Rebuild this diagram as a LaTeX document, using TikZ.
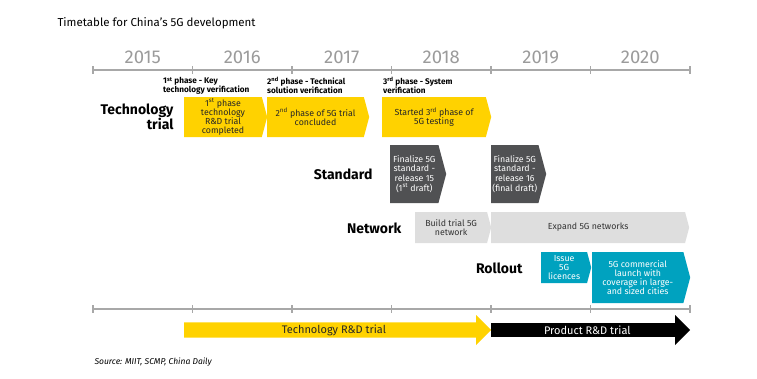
\documentclass[tikz,border=0pt]{standalone}
\usepackage{fontspec}
\setmainfont{Fira Sans}
\usetikzlibrary{shapes.symbols,shapes.arrows}
\definecolor{eyyellow}{HTML}{FFD200}
\definecolor{eydark}{HTML}{505153}
\definecolor{eylight}{HTML}{DEDEDE}
\definecolor{eyteal}{HTML}{00A2BF}
\definecolor{axisgray}{HTML}{A8A8A8}
\definecolor{yeargray}{HTML}{9B9B9B}
\begin{document}
\begin{tikzpicture}[x=1pt, y=-1pt,
        phase/.style={signal, signal to=east, signal from=nowhere, signal pointer angle=150,
            anchor=west, inner sep=0pt, align=center, font=\fontsize{8.8}{8.8}\selectfont},
        techbox/.style={phase, fill=eyyellow, text=black!85, minimum height=40pt},
        stdbox/.style={phase, fill=eydark, text=white, minimum height=58pt, font=\fontsize{8.8}{9.6}\selectfont},
        netbox/.style={phase, fill=eylight, text=black!80, minimum height=31pt},
        rollbox/.style={phase, fill=eyteal, text=white},
        rowlabel/.style={anchor=east, align=right, font=\fontsize{14}{14}\selectfont\bfseries},
        phaselabel/.style={anchor=north west, align=left, inner sep=0pt, font=\fontsize{8.2}{8.7}\selectfont\bfseries},
        year/.style={text=yeargray, font=\fontsize{18.5}{18.5}\selectfont},
        axis/.style={axisgray, line width=1.5pt},
        bar/.style={single arrow, single arrow head extend=5.5pt, single arrow tip angle=90,
            anchor=tail, inner sep=0pt, minimum width=30pt, font=\fontsize{11}{12}\selectfont}
    ]
        \useasboundingbox (0,0) rectangle (757,378);

        \node[anchor=base west, font=\fontsize{11.5}{13}\selectfont] (title) at (54,26) {Timetable for China's 5G development};

        % years and time axes
        \foreach \yr [count=\i from 0] in {2015,...,2020}
            \node[year] (y\yr) at (142.75+99.5*\i,57) {\yr};
        \draw[axis] (93,70) -- (690,70);
        \draw[axis] (93,309) -- (690,309);
        \foreach \i in {0,...,6} {
            \draw[axis] (93+99.5*\i,66) -- (93+99.5*\i,74);
            \draw[axis] (93+99.5*\i,305) -- (93+99.5*\i,313);
        }

        % technology trial
        \node[rowlabel] (tech) at (177,117) {Technology\\trial};
        \node[phaselabel] (p1) at (163,77) {1\textsuperscript{st} phase - Key\\technology verification};
        \node[phaselabel] (p2) at (267,77) {2\textsuperscript{nd} phase - Technical\\solution verification};
        \node[phaselabel] (p3) at (383,77) {3\textsuperscript{rd} phase - System\\verification};
        \node[techbox, minimum width=83pt] (T1) at (184,117) {1\textsuperscript{st} phase\\technology\\R\&D trial\\completed};
        \node[techbox, minimum width=102pt] (T2) at (267,117) {2\textsuperscript{nd} phase of 5G trial\\concluded};
        \node[techbox, minimum width=109pt] (T3) at (382,117) {Started 3\textsuperscript{rd} phase of\\5G testing};

        % standard
        \node[rowlabel] (std) at (376,174) {Standard};
        \node[stdbox, minimum width=56pt] (S1) at (390,174) {Finalize 5G\\standard -\\release 15\\(1\textsuperscript{st} draft)};
        \node[stdbox, minimum width=55pt] (S2) at (491,174) {Finalize 5G\\standard -\\release 16\\(final draft)};

        % network
        \node[rowlabel] (net) at (405,228) {Network};
        \node[netbox, minimum width=76pt] (N1) at (415,227.5) {Build trial 5G\\network};
        \node[netbox, minimum width=198pt] (N2) at (491,227.5) {Expand 5G networks};

        % rollout
        \node[rowlabel] (roll) at (526,268) {Rollout};
        \node[rollbox, minimum width=50pt, minimum height=31pt] (R1) at (541,267.5) {Issue\\5G\\licences};
        \node[rollbox, minimum width=98pt, minimum height=51pt] (R2) at (592,277.5) {5G commercial\\launch with\\coverage in large-\\and sized cities};

        % R&D bars
        \node[bar, fill=eyyellow, text=black!85, minimum height=307pt] (tbar) at (184,330) {Technology R\&D trial};
        \node[bar, fill=black, text=white, minimum height=199pt] (pbar) at (491,330) {Product R\&D trial};

        \node[anchor=base west, font=\fontsize{8.5}{9}\selectfont\itshape] (src) at (91,364) {Source: MIIT, SCMP, China Daily};
    \end{tikzpicture}
\end{document}
